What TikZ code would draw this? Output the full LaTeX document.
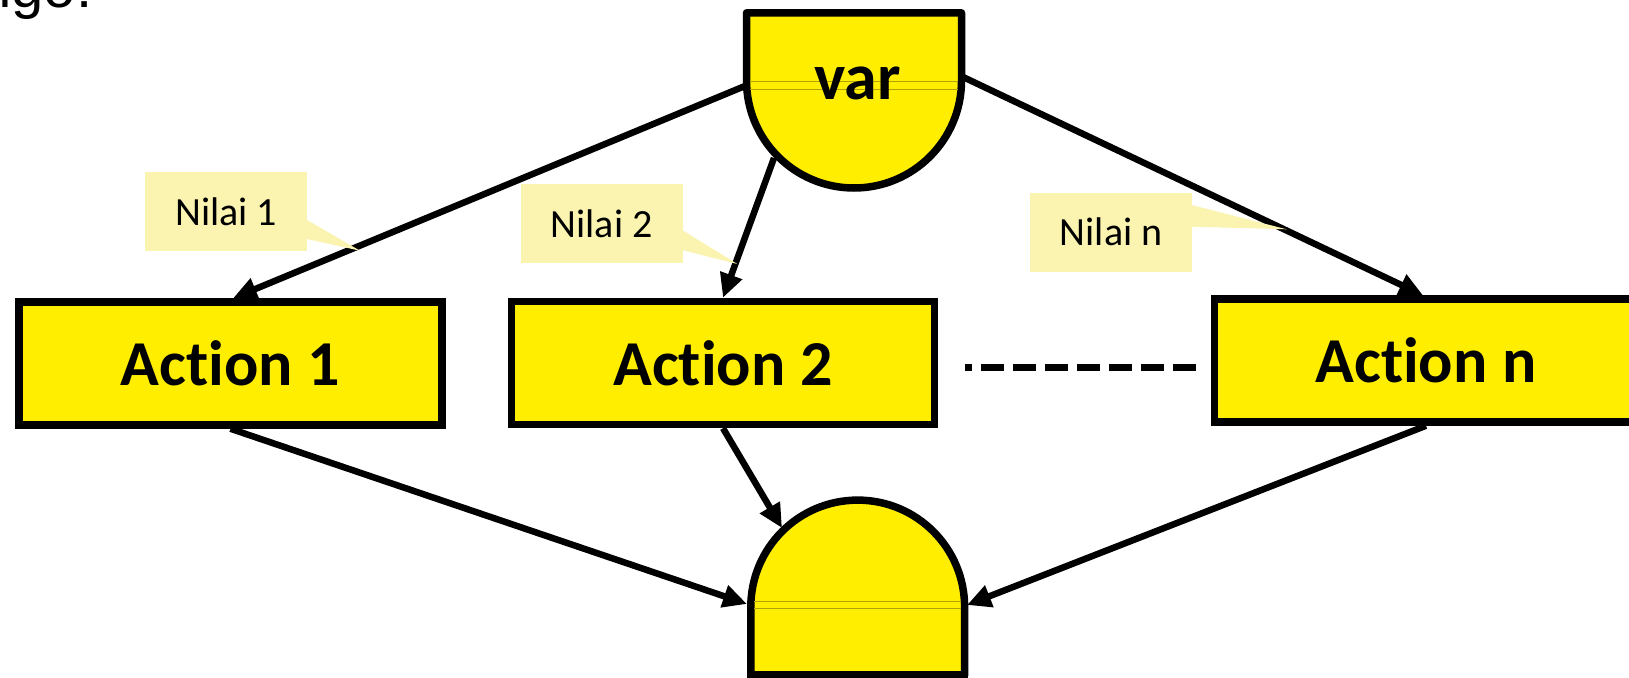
\documentclass[tikz,border=0pt]{standalone}
\usepackage{fontspec}
\setmainfont{Carlito}[Ligatures=NoCommon]
\newfontfamily\headfont{Liberation Sans}
\usetikzlibrary{arrows.meta}
\definecolor{fillyellow}{RGB}{255,238,0}
\definecolor{noteyellow}{RGB}{250,244,176}
\definecolor{seam}{RGB}{175,162,10}
\tikzset{
  x=1pt, y=1pt,
  actionbox/.style={draw=black, line width=7.5pt, fill=fillyellow,
    minimum width=423pt, minimum height=123pt, inner sep=0pt,
    font=\fontsize{64}{64}\selectfont\bfseries},
  terminal/.style={draw=black, line width=7.5pt, fill=fillyellow, line join=round},
  seamline/.style={draw=seam, line width=1pt},
  flow/.style={draw=black, line width=6.5pt, -{Triangle[length=24pt,width=22pt]}},
  note/.style={fill=noteyellow, inner sep=0pt, minimum width=162pt,
    minimum height=79pt, font=\fontsize{40}{40}\selectfont},
  pointer/.style={fill=noteyellow},
  gapline/.style={draw=black, line width=7.5pt, dash pattern=on 23pt off 9pt, dash phase=16pt}
}
\begin{document}
\begin{tikzpicture}
\clip (0,0) rectangle (1629,-677);
\fill[white] (0,0) rectangle (1629,-677);

% heading text running off the top edge
\node[anchor=base west, inner sep=0pt, font=\headfont\fontsize{58}{58}\selectfont] (head) at (-20.7,-7.5) {ngo:};

% selector shape at the top
\draw[terminal] (746.5,-12.8) -- (961.5,-12.8) -- (961.5,-80.5)
  arc[start angle=0, end angle=-180, radius=107.5pt] -- cycle;
\draw[seamline] (750,-81) -- (958,-81);
\draw[seamline] (750,-89) -- (958,-89);
\node[inner sep=0pt, font=\fontsize{66}{66}\selectfont\bfseries] (var) at (857.5,-83.5) {var};

% joining shape at the bottom
\draw[terminal] (750.8,-676) -- (750.8,-607)
  arc[start angle=180, end angle=0, radius=106.9pt] -- (964.6,-676);
\draw[black, line width=7pt] (747.3,-674) -- (968.1,-674);
\draw[seamline] (754,-601) -- (961,-601);
\draw[seamline] (754,-608) -- (961,-608);

% the branches
\node[actionbox] (a1) at (230.5,-363.5) {Action 1};
\node[actionbox] (a2) at (723,-363) {Action 2};
\node[actionbox] (an) at (1426,-360.5) {Action n};

% points on the outlines of the two round shapes
\coordinate (vl) at (745,-86);
\coordinate (vb) at (774,-158);
\coordinate (vr) at (963,-77);
\coordinate (jl) at (747,-604);
\coordinate (jt) at (782,-528);
\coordinate (jr) at (967,-605);

\draw[flow] (vl) -- ([xshift=2.5pt]a1.north);
\draw[flow] (vb) -- (a2.north);
\draw[flow] (vr) -- ([xshift=-3pt]an.north);
\draw[flow] (a1.south) -- (jl);
\draw[flow] (a2.south) -- (jt);
\draw[flow] (an.south) -- (jr);

% omitted branches
\coordinate (g1) at (965,-367.3);
\coordinate (g2) at (1196,-367.3);
\draw[gapline] (g1) -- (g2);

% value labels
\node[note] (n1) at (226.3,-211.7) {Nilai 1};
\fill[pointer] (307,-220) -- (360,-250.7) -- (307,-239) -- cycle;
\node[note] (n2) at (601.7,-223.3) {Nilai 2};
\fill[pointer] (682,-230) -- (737.3,-264) -- (682,-250) -- cycle;
\node[note] (nn) at (1111.2,-232.2) {Nilai n};
\fill[pointer] (1191.5,-205) -- (1286.7,-229.3) -- (1191.5,-226.7) -- cycle;
\end{tikzpicture}
\end{document}
